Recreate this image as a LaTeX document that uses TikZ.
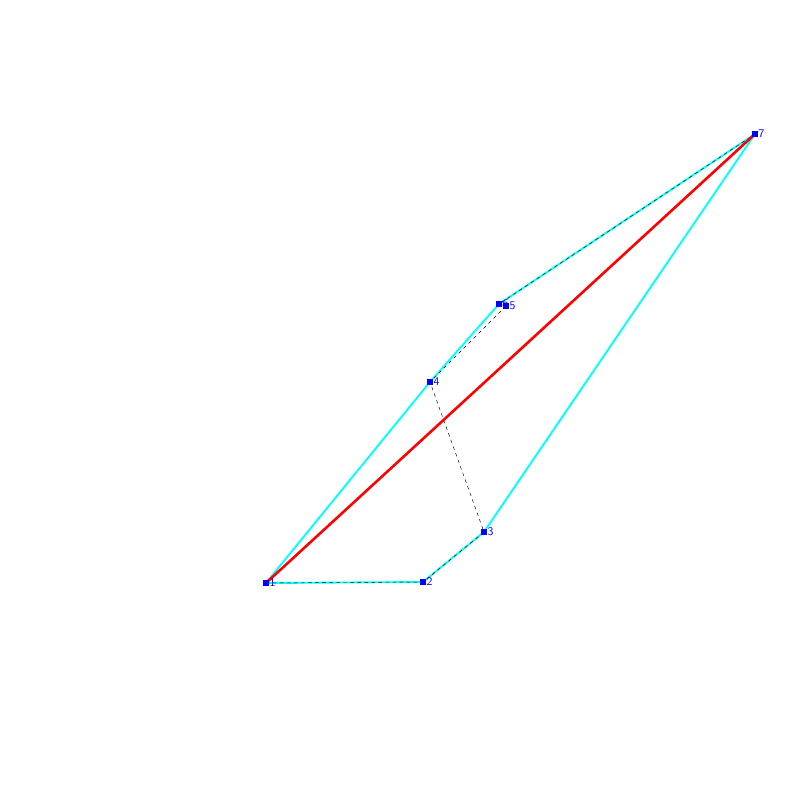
\documentclass[tikz,border=0pt]{standalone}
\usepackage{tikz}
\usetikzlibrary{calc}

\definecolor{aqua}{RGB}{0,255,255}
\tikzset{
  pt/.style={fill=blue, inner sep=0pt, minimum size=5.5pt, draw=none,
    label={[text=blue, font=\sffamily, inner sep=1pt, xshift=-1pt]right:#1}},
  hull/.style={aqua, line width=1.6pt},
  walk/.style={black, dashed, thin},
}

\begin{document}
\begin{tikzpicture}[x=0.3mm, y=-0.3mm]
            \useasboundingbox (0,0) rectangle (800,800);
            \coordinate (a1) at (266,583);
            \coordinate (a2) at (423,582);
            \coordinate (a3) at (484,532);
            \coordinate (a4) at (430,382);
            \coordinate (a5) at (506,306);
            \coordinate (a6) at (499,304);
            \coordinate (a7) at (755,134);
            % hull
            \draw[hull] (a1) -- (a2) -- (a3) -- (a7) -- (a6) -- (a4) -- cycle;
            % path through the points
            \draw[walk] (a1) -- (a2) -- (a3) -- (a4) -- (a5) -- (a6) -- (a7);
            \draw[red, line width=2.2pt] (a1) -- (a7);
            \node[pt=6] (p6) at (a6) {};
            \node[pt=5] (p5) at (a5) {};
            \node[pt=1] (p1) at (a1) {};
            \node[pt=2] (p2) at (a2) {};
            \node[pt=3] (p3) at (a3) {};
            \node[pt=4] (p4) at (a4) {};
            \node[pt=7] (p7) at (a7) {};

        \end{tikzpicture}
\end{document}
